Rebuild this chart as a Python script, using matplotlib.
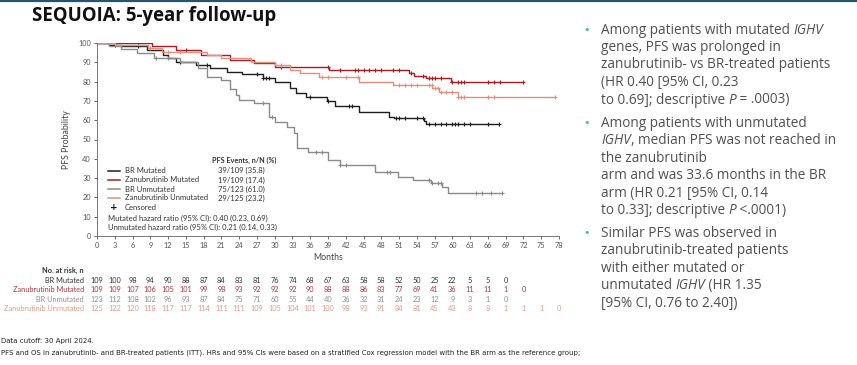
import numpy as np
import matplotlib
matplotlib.use("Agg")
import matplotlib.pyplot as plt
import matplotlib.transforms as mtransforms

W, H = 857, 365

# KM step curves (months, PFS %)
br_mut_t = [0, 2, 4, 8.5, 11.2, 12, 13.3, 16.7, 19, 22, 24.5, 28, 30, 32.6, 33.6, 35.3, 38.9, 40.1, 44.3, 49.3, 50.2, 55.2, 55.5]
br_mut_s = [100, 99.2, 98.4, 96.4, 93.8, 92, 90, 88.6, 86.9, 85.1, 83.8, 82, 79.6, 76.5, 74, 72.2, 70, 67.3, 64.4, 61.8, 61, 59.5, 58.2]
br_mut_end = 67.9

zan_mut_t = [0, 9.3, 13.3, 17.5, 22.5, 26.5, 30, 39.2, 52.7, 53.5, 55.5, 59.7]
zan_mut_s = [100, 98.4, 96.4, 93.8, 91.2, 89.5, 87.7, 86, 84.5, 83, 81.7, 79.6]
zan_mut_end = 72

br_unm_t = [0, 2, 4, 6.7, 9.6, 14, 17, 18.5, 21, 22.5, 23.5, 24, 26.5, 29, 30, 32, 33.3, 33.7, 35.6, 39, 41, 47, 50.8, 53.4, 56.4, 58.2, 59.2]
br_unm_s = [100, 98.5, 97, 94.6, 92, 90.3, 86.9, 82.5, 80.8, 76, 73, 70.5, 69, 61.8, 59, 56.6, 53.3, 45.4, 43.7, 39.4, 36.8, 33.3, 30.7, 29, 27.3, 25.5, 22.5]
br_unm_end = 68.4

zan_unm_t = [0, 3, 8.6, 11, 18.5, 21, 26, 30, 32.5, 34.2, 37.5, 44.3, 49.9, 56.6, 57.7, 61]
zan_unm_s = [100, 99, 97.2, 95.5, 93.8, 92, 90.3, 88.5, 86, 84.3, 82.5, 80, 78.2, 76.5, 74.8, 72.2]
zan_unm_end = 77.4

# censor times
br_mut_c = [3, 7, 14, 18.5, 27, 28, 28.5, 29, 36, 39, 42.5, 43, 50.5, 51, 52, 54, 55, 56, 57, 58, 59, 60, 60.5, 61, 62, 63, 66, 67.9]
zan_mut_c = [15, 31, 39, 41, 43.5, 44, 45, 46, 47, 48, 50, 51, 53, 55, 56, 56.5, 57, 58, 60, 61, 61.5, 62, 66, 67, 68, 72]
br_unm_c = [10, 12, 28, 29.5, 37, 38, 41, 42, 49, 49.5, 56, 56.5, 57.5, 58, 64, 65, 66.5, 68.4]
zan_unm_c = [9, 12, 14, 31, 38, 39, 42, 44, 51, 52, 53, 54, 56, 56.5, 57, 57.5, 58, 59, 60, 61, 61.5, 62, 66, 67, 77.4]

names = ["BR Mutated", "Zanubrutinib Mutated", "BR Unmutated", "Zanubrutinib Unmutated"]
events = ["39/109 (35.8)", "19/109 (17.4)", "75/123 (61.0)", "29/125 (23.2)"]
colors = ["#1e1e1e", "#a91d22", "#8a8a8a", "#e2907b"]
text_colors = ["#333333", "#b0363a", "#8f8f8f", "#e39a88"]

risk_months = list(range(0, 79, 3))
br_mut_risk = [109, 100, 98, 94, 90, 88, 87, 84, 83, 81, 76, 74, 68, 67, 63, 58, 58, 52, 50, 25, 22, 5, 5, 0]
zan_mut_risk = [109, 109, 107, 106, 105, 101, 99, 98, 93, 92, 92, 92, 90, 88, 88, 86, 83, 77, 69, 41, 36, 11, 11, 1, 0]
br_unm_risk = [123, 112, 108, 102, 96, 93, 87, 84, 75, 71, 60, 55, 44, 40, 36, 32, 31, 24, 23, 12, 9, 3, 1, 0]
zan_unm_risk = [125, 122, 120, 118, 117, 117, 114, 111, 111, 109, 105, 104, 101, 100, 98, 93, 91, 84, 81, 45, 43, 8, 8, 1, 1, 1, 0]

series = [
    (br_mut_t, br_mut_s, br_mut_end, br_mut_c, br_mut_risk),
    (zan_mut_t, zan_mut_s, zan_mut_end, zan_mut_c, zan_mut_risk),
    (br_unm_t, br_unm_s, br_unm_end, br_unm_c, br_unm_risk),
    (zan_unm_t, zan_unm_s, zan_unm_end, zan_unm_c, zan_unm_risk),
]

fig = plt.figure(figsize=(W / 100, H / 100), dpi=100)
fig.patch.set_facecolor("white")

def fy(py):
    return 1 - py / H

def fx(px):
    return px / W

# top bar
fig.add_artist(plt.Line2D([0, 1], [fy(0.8), fy(0.8)], color="#24546e", lw=1.6))

fig.text(fx(32), fy(16), "SEQUOIA: 5-year follow-up", fontsize=13.4, fontweight="bold",
         family="Open Sans", va="center", ha="left", color="#111111")

ax = fig.add_axes([fx(97), fy(236), fx(559) - fx(97), (236 - 43) / H])
ax.set_xlim(0, 78)
ax.set_ylim(0, 100)
for sp in ["top", "right"]:
    ax.spines[sp].set_visible(False)
for sp in ["left", "bottom"]:
    ax.spines[sp].set_color("#777777")
    ax.spines[sp].set_linewidth(0.7)
ax.set_xticks(risk_months)
ax.set_yticks(range(0, 101, 10))
ax.tick_params(labelsize=5.3, colors="#555555", length=2.5, width=0.6, pad=2)
for lab in ax.get_xticklabels() + ax.get_yticklabels():
    lab.set_family("Lato")
ax.set_ylabel("PFS Probability", fontsize=6.3, color="#444444", family="Lato", labelpad=5)
ax.set_xlabel("Months", fontsize=6.3, color="#444444", family="Lato", labelpad=3)

for (t, s, end, cens, risk), c in zip(series, colors):
    tt = list(t) + [end]
    ss = list(s) + [s[-1]]
    ax.step(tt, ss, where="post", color=c, lw=1.0)
    idx = np.searchsorted(t, cens, side="right") - 1
    cy = np.array(s)[idx]
    ax.plot(cens, cy, ls="none", marker="+", ms=3.2, mew=0.8, color=c)

# legend block
fig.text(fx(212), fy(160), "PFS Events, n/N (%)", fontsize=5.2, fontweight="bold",
         color="#333333", family="Lato", va="center")
rows_py = [170.7, 180, 189, 198]
for name, ev, c, py in zip(names, events, colors, rows_py):
    fig.add_artist(plt.Line2D([fx(108), fx(120)], [fy(py), fy(py)], color=c, lw=1.1))
    fig.text(fx(125), fy(py), name, fontsize=5.5, color="#333333", family="Lato", va="center")
    fig.text(fx(218), fy(py), ev, fontsize=5.5, color="#333333", family="Lato", va="center")
fig.text(fx(114), fy(207), "+", fontsize=6.5, fontweight="bold", color="#111111", ha="center", va="center")
fig.text(fx(125), fy(207), "Censored", fontsize=5.5, color="#333333", family="Lato", va="center")
fig.text(fx(108), fy(218), "Mutated hazard ratio (95% CI): 0.40 (0.23, 0.69)", fontsize=5.5,
         color="#333333", family="Lato", va="center")
fig.text(fx(108), fy(227.5), "Unmutated hazard ratio (95% CI): 0.21 (0.14, 0.33)", fontsize=5.5,
         color="#333333", family="Lato", va="center")

# number at risk
rt = mtransforms.blended_transform_factory(ax.transData, fig.transFigure)
fig.text(fx(84), fy(270), "No. at risk, n", fontsize=5.3, fontweight="bold", color="#333333",
         family="Lato", ha="right", va="center")
risk_py = [280.3, 289.7, 299.3, 308.3]
for (t, s, end, cens, risk), name, tc, py in zip(series, names, text_colors, risk_py):
    fig.text(fx(84), fy(py), name, fontsize=5.3, color=tc, family="Lato", ha="right", va="center")
    for m, n in zip(risk_months, risk):
        ax.text(m, fy(py), str(n), transform=rt, fontsize=5.3, color=tc, family="Lato",
                ha="center", va="center", clip_on=False)

# footnotes
fig.text(fx(1), fy(341), "Data cutoff: 30 April 2024.", fontsize=5, color="#222222",
         family="Liberation Sans Narrow", va="center")
fig.text(fx(1), fy(353), "PFS and OS in zanubrutinib- and BR-treated patients (ITT). HRs and 95% CIs were based on a "
         "stratified Cox regression model with the BR arm as the reference group;", fontsize=5,
         color="#222222", family="Liberation Sans Narrow", va="center")

# right-hand bullet text, runs of (text, italic)
bullets = [
    [[("Among patients with mutated ", False), ("IGHV", True)],
     [("genes, PFS was prolonged in", False)],
     [("zanubrutinib- vs BR-treated patients", False)],
     [("(HR 0.40 [95% CI, 0.23", False)],
     [("to 0.69]; descriptive ", False), ("P", True), (" = .0003)", False)]],
    [[("Among patients with unmutated", False)],
     [("IGHV", True), (", median PFS was not reached in", False)],
     [("the zanubrutinib", False)],
     [("arm and was 33.6 months in the BR", False)],
     [("arm (HR 0.21 [95% CI, 0.14", False)],
     [("to 0.33]; descriptive ", False), ("P", True), (" <.0001)", False)]],
    [[("Similar PFS was observed in", False)],
     [("zanubrutinib-treated patients", False)],
     [("with either mutated or", False)],
     [("unmutated ", False), ("IGHV", True), (" (HR 1.35", False)],
     [("[95% CI, 0.76 to 2.40])", False)]],
]
bullet_py = [30, 123.3, 233]
line_h = 17.5

fig.canvas.draw()
renderer = fig.canvas.get_renderer()
for lines, py0 in zip(bullets, bullet_py):
    fig.text(fx(587), fy(py0), "\u2022", fontsize=8, color="#4bb5c5", ha="center", va="center")
    for i, runs in enumerate(lines):
        py = py0 + i * line_h
        x = fx(601)
        for txt, it in runs:
            t = fig.text(x, fy(py), txt, fontsize=9.8, color="#505050", family="Open Sans",
                         style="italic" if it else "normal", va="center", ha="left")
            bb = t.get_window_extent(renderer)
            x = bb.x1 / W

fig.savefig("out.png", dpi=100)
